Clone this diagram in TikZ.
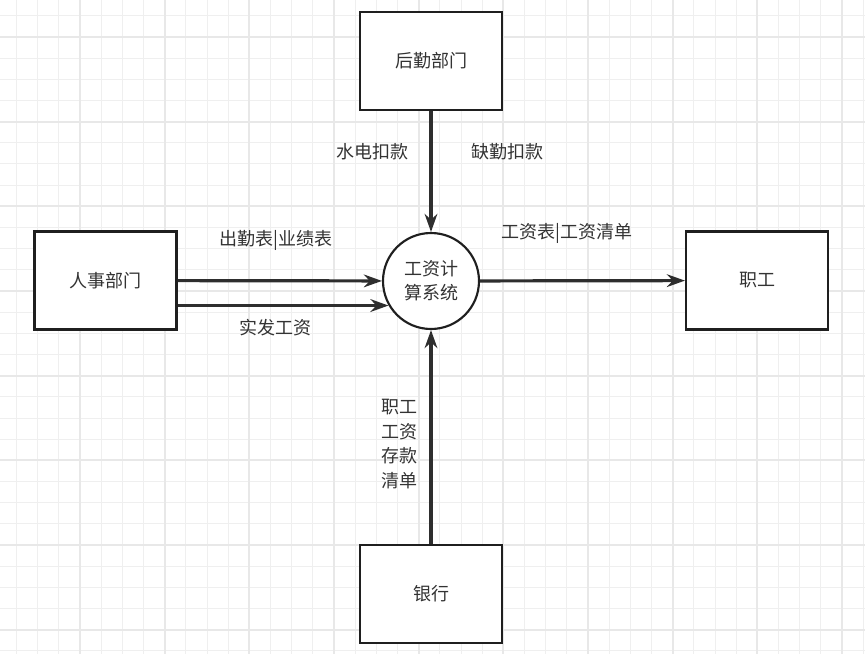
\documentclass[tikz,border=0pt]{standalone}
\usepackage{fontspec}
\setmainfont{Noto Sans CJK SC}
\usetikzlibrary{arrows.meta}
\definecolor{inkgray}{HTML}{333333}
\definecolor{gridminor}{HTML}{EFEFEF}
\definecolor{gridmajor}{HTML}{E8E8E8}
\tikzset{
  >={Stealth[length=13.5pt,width=9.5pt]},
  entity/.style={draw=black!88,line width=1.6pt,fill=white,minimum width=106.5pt,
    minimum height=73.5pt,text=inkgray,font=\fontsize{13.5pt}{18pt}\selectfont},
  proc/.style={circle,draw=black!88,line width=1.6pt,fill=white,minimum size=72pt,
    inner sep=0pt,align=center,text=inkgray,font=\fontsize{13.5pt}{18pt}\selectfont},
  flow/.style={->,line width=2.4pt,draw=black!82},
  flowtext/.style={text=inkgray,font=\fontsize{13.5pt}{18.4pt}\selectfont,align=center,inner sep=0pt},
  minorline/.style={draw=gridminor,line width=0.75pt},
  majorline/.style={draw=gridmajor,line width=1.5pt}
}
\begin{document}
\begin{tikzpicture}[x=0.75pt,y=-0.75pt]

  \useasboundingbox[fill=white] (0,0) rectangle (865,654);

  %% background grid
  \foreach \k in {0,...,40}
    \draw[minorline] ({16.5+21.17*\k},0) -- ({16.5+21.17*\k},654);
  \foreach \k in {0,...,30}
    \draw[minorline] (0,{15.8+21.17*\k}) -- (865,{15.8+21.17*\k});
  \foreach \k in {0,...,9}
    \draw[majorline] ({80+84.67*\k},0) -- ({80+84.67*\k},654);
  \foreach \k in {0,...,7}
    \draw[majorline] (0,{37+84.67*\k}) -- (865,{37+84.67*\k});

  %% entities and process
  \node[proc] (sys) at (431,281) {工资计\\算系统};
  \node[entity] (hq) at (431,61) {后勤部门};
  \node[entity] (hr) at (105.5,280.5) {人事部门};
  \node[entity] (staff) at (757,280.5) {职工};
  \node[entity] (bank) at (431,594) {银行};

  %% flows
  \draw[flow] (hq) -- (sys); %% hq -> sys
  \draw[flow] (bank) -- (sys); %% bank -> sys
  \draw[flow] (sys) -- (staff); %% sys -> staff
  \draw[flow] (hr) -- (sys);
  \draw[flow] (hr.east |- sys.-150) -- (sys.-150);

  %% flow labels
  \node[flowtext] (lblattend) at (276,240) {出勤表|业绩表};
  \node[flowtext] (lblpaid) at (275,328) {实发工资};
  \node[flowtext] (lblutil) at (372,152) {水电扣款};
  \node[flowtext] (lblabsent) at (507,152) {缺勤扣款};
  \node[flowtext] (lblsheet) at (567,233) {工资表|工资清单};
  \node[flowtext] (lbldeposit) at (399,444) {职工\\工资\\存款\\清单};

\end{tikzpicture}
\end{document}
